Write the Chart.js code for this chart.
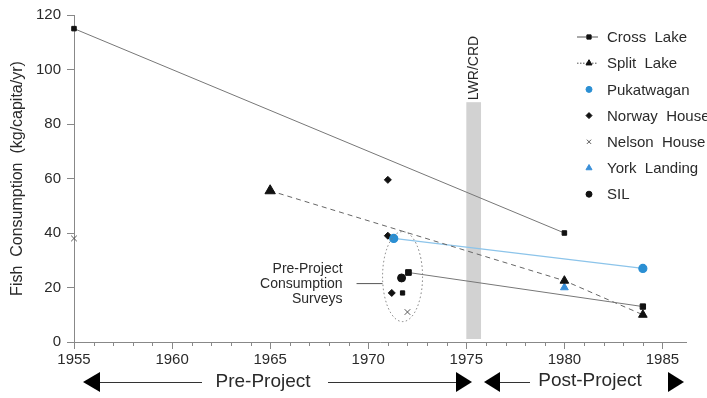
<!DOCTYPE html>
<html>
<head>
<meta charset="utf-8">
<script src="https://cdn.jsdelivr.net/npm/chart.js@4"></script>
<style>
  html, body { margin: 0; padding: 0; background: #fff; }
  #wrap { width: 707px; height: 398px; }
</style>
</head>
<body>
<div id="wrap"><canvas id="fishChart" width="707" height="398"></canvas></div>
<script>
// values
const crossLakeYears = [1955, 1980];
const crossLakeValues = [115, 40];
const crossLakeSurveyYears = [1972.05, 1984];
const crossLakeSurveyValues = [25.5, 13];
const crossLakeOtherYears = [1971.75];
const crossLakeOtherValues = [18];
const splitLakeYears = [1965, 1980, 1984];
const splitLakeValues = [55.5, 22.5, 10];
const pukatwaganYears = [1971.3, 1984];
const pukatwaganValues = [38, 27];
const norwayHouseYears = [1971, 1971, 1971.2];
const norwayHouseValues = [59.5, 39, 18];
const nelsonHouseYears = [1955, 1972];
const nelsonHouseValues = [38, 11];
const yorkLandingYears = [1980];
const yorkLandingValues = [20];
const silYears = [1971.7];
const silValues = [23.5];

const yTicks = [0, 20, 40, 60, 80, 100, 120];
const xTickYears = [1955, 1960, 1965, 1970, 1975, 1980, 1985];

const FONT = '"Liberation Sans", Arial, sans-serif';
const TEXT = '#2a2a2a';

function pts(xs, ys) {
    return xs.map((x, i) => ({ x: x, y: ys[i] }));
}

const legendItems = [
    { label: 'Cross  Lake', style: 'rect', color: '#111', radius: 3, line: 'solid' },
    { label: 'Split  Lake', style: 'triangle', color: '#111', radius: 3.5, line: 'dotted' },
    { label: 'Pukatwagan', style: 'circle', color: '#2b8fd3', radius: 3 },
    { label: 'Norway  House', style: 'rectRot', color: '#111', radius: 3 },
    { label: 'Nelson  House', style: 'crossRot', color: '#555', radius: 3 },
    { label: 'York  Landing', style: 'triangle', color: '#3a8fd8', radius: 3.5 },
    { label: 'SIL', style: 'circle', color: '#111', radius: 3 }
];

const extras = {
    id: 'extras',
    beforeDatasetsDraw(chart) {
        const ctx = chart.ctx;
        const xs = chart.scales.x, ys = chart.scales.y;
        // LWR/CRD band
        const bx0 = xs.getPixelForValue(1975), bx1 = xs.getPixelForValue(1975.75);
        const by0 = ys.getPixelForValue(88), by1 = ys.getPixelForValue(0);
        ctx.save();
        ctx.fillStyle = '#d2d2d2';
        ctx.fillRect(bx0, by0, bx1 - bx0, by1 - by0 - 3);
        ctx.restore();
    },
    afterDraw(chart) {
        const ctx = chart.ctx;
        const xs = chart.scales.x, ys = chart.scales.y;
        const h = Chart.helpers;
        ctx.save();

        // minor x ticks
        ctx.strokeStyle = '#888';
        ctx.lineWidth = 1;
        const base = ys.getPixelForValue(0);
        for (let yr = 1956; yr <= 1985; yr++) {
            if (yr % 5 === 0) continue;
            const px = Math.round(xs.getPixelForValue(yr)) + 0.5;
            ctx.beginPath();
            ctx.moveTo(px, base);
            ctx.lineTo(px, base + 4);
            ctx.stroke();
        }

        // LWR/CRD label
        ctx.fillStyle = TEXT;
        ctx.font = '14px ' + FONT;
        ctx.textAlign = 'center';
        ctx.textBaseline = 'middle';
        ctx.save();
        ctx.translate((xs.getPixelForValue(1975) + xs.getPixelForValue(1975.75)) / 2, 68);
        ctx.rotate(-Math.PI / 2);
        ctx.fillText('LWR/CRD', 0, 0);
        ctx.restore();

        // survey ellipse
        const ex = xs.getPixelForValue(1971.75), ey = ys.getPixelForValue(24);
        ctx.strokeStyle = '#777';
        ctx.setLineDash([1.5, 2.5]);
        ctx.beginPath();
        ctx.ellipse(ex, ey, 20, 45, 0, 0, Math.PI * 2);
        ctx.stroke();
        ctx.setLineDash([]);
        // pointer line and text
        ctx.strokeStyle = '#555';
        ctx.beginPath();
        ctx.moveTo(ex - 46, ey + 7);
        ctx.lineTo(ex - 20, ey + 7);
        ctx.stroke();
        ctx.fillStyle = TEXT;
        ctx.font = '14px ' + FONT;
        ctx.textAlign = 'right';
        ctx.fillText('Pre-Project', ex - 60, ey - 7);
        ctx.fillText('Consumption', ex - 60, ey + 8);
        ctx.fillText('Surveys', ex - 60, ey + 23);

        // legend
        ctx.textAlign = 'left';
        ctx.font = '15px ' + FONT;
        legendItems.forEach((it, i) => {
            const ly = 37 + i * 26.2;
            if (it.line) {
                ctx.strokeStyle = '#555';
                ctx.setLineDash(it.line === 'dotted' ? [1.5, 1.5] : []);
                ctx.beginPath();
                ctx.moveTo(577, ly);
                ctx.lineTo(598, ly);
                ctx.stroke();
                ctx.setLineDash([]);
            }
            ctx.fillStyle = it.color;
            ctx.strokeStyle = it.color;
            h.drawPoint(ctx, { pointStyle: it.style, radius: it.radius, rotation: 0, borderWidth: 1 }, 589, ly);
            ctx.fillStyle = TEXT;
            ctx.fillText(it.label, 607, ly + 1);
        });

        // Pre/Post project arrows
        const ay = 382;
        ctx.fillStyle = '#000';
        ctx.strokeStyle = '#333';
        function tri(tipX, baseX) {
            ctx.beginPath();
            ctx.moveTo(tipX, ay);
            ctx.lineTo(baseX, ay - 10);
            ctx.lineTo(baseX, ay + 10);
            ctx.closePath();
            ctx.fill();
        }
        function seg(a, b) {
            ctx.beginPath();
            ctx.moveTo(a, ay + 0.5);
            ctx.lineTo(b, ay + 0.5);
            ctx.stroke();
        }
        tri(83, 100); seg(100, 202); seg(328, 456); tri(472, 456);
        tri(484, 500); seg(500, 530); tri(684, 668);
        ctx.fillStyle = TEXT;
        ctx.font = '19px ' + FONT;
        ctx.textAlign = 'center';
        ctx.fillText('Pre-Project', 263, ay);
        ctx.fillText('Post-Project', 590, ay - 1);

        ctx.restore();
    }
};

new Chart(document.getElementById('fishChart'), {
    type: 'line',
    data: {
        datasets: [
            {
                label: 'Cross Lake',
                data: pts(crossLakeYears, crossLakeValues),
                borderColor: '#777', borderWidth: 1,
                pointStyle: 'rect', pointRadius: 3.2,
                pointBackgroundColor: '#111', pointBorderColor: '#111'
            },
            {
                label: 'Cross Lake (surveys)',
                data: pts(crossLakeSurveyYears, crossLakeSurveyValues),
                borderColor: '#777', borderWidth: 1,
                pointStyle: 'rect', pointRadius: [4, 3.8],
                pointBackgroundColor: '#111', pointBorderColor: '#111'
            },
            {
                label: 'Cross Lake (other)',
                data: pts(crossLakeOtherYears, crossLakeOtherValues),
                showLine: false,
                pointStyle: 'rect', pointRadius: 3,
                pointBackgroundColor: '#111', pointBorderColor: '#111'
            },
            {
                label: 'Split Lake',
                data: pts(splitLakeYears, splitLakeValues),
                borderColor: '#666', borderWidth: 1, borderDash: [5, 4],
                pointStyle: 'triangle', pointRadius: [6, 5, 5],
                pointBackgroundColor: '#111', pointBorderColor: '#111'
            },
            {
                label: 'Pukatwagan',
                data: pts(pukatwaganYears, pukatwaganValues),
                borderColor: '#8cc4ea', borderWidth: 1.2,
                pointStyle: 'circle', pointRadius: 4,
                pointBackgroundColor: '#2b8fd3', pointBorderColor: '#2b8fd3'
            },
            {
                label: 'Norway House',
                data: pts(norwayHouseYears, norwayHouseValues),
                showLine: false,
                pointStyle: 'rectRot', pointRadius: 3.5,
                pointBackgroundColor: '#111', pointBorderColor: '#111'
            },
            {
                label: 'Nelson House',
                data: pts(nelsonHouseYears, nelsonHouseValues),
                showLine: false,
                pointStyle: 'crossRot', pointRadius: 4, pointBorderWidth: 1,
                pointBorderColor: '#555'
            },
            {
                label: 'York Landing',
                data: pts(yorkLandingYears, yorkLandingValues),
                showLine: false,
                pointStyle: 'triangle', pointRadius: 4.5,
                pointBackgroundColor: '#3a8fd8', pointBorderColor: '#3a8fd8'
            },
            {
                label: 'SIL',
                data: pts(silYears, silValues),
                showLine: false,
                pointStyle: 'circle', pointRadius: 4,
                pointBackgroundColor: '#111', pointBorderColor: '#111'
            }
        ]
    },
    options: {
        responsive: false,
        animation: false,
        clip: false,
        layout: { padding: { top: 15, right: 21, left: 8, bottom: 0 } },
        plugins: {
            legend: { display: false },
            tooltip: { enabled: false }
        },
        scales: {
            x: {
                type: 'linear',
                min: 1955,
                max: 1986.2,
                afterBuildTicks: (axis) => {
                    axis.ticks = xTickYears.map(v => ({ value: v }));
                },
                afterFit: (axis) => { axis.height = 56; },
                grid: { display: true, drawOnChartArea: false, tickLength: 7, color: '#888' },
                border: { color: '#888' },
                ticks: {
                    color: TEXT,
                    font: { family: FONT, size: 15 },
                    padding: 2,
                    maxRotation: 0,
                    autoSkip: false,
                    callback: (v) => String(v)
                }
            },
            y: {
                min: 0,
                max: 120,
                afterBuildTicks: (axis) => {
                    axis.ticks = yTicks.map(v => ({ value: v }));
                },
                afterFit: (axis) => { axis.width = 66; },
                grid: { display: true, drawOnChartArea: false, tickLength: 7, color: '#888' },
                border: { color: '#888' },
                ticks: {
                    color: TEXT,
                    font: { family: FONT, size: 15 },
                    padding: 6
                },
                title: {
                    display: true,
                    text: 'Fish  Consumption  (kg/capita/yr)',
                    color: TEXT,
                    font: { family: FONT, size: 16 },
                    padding: { top: 0, bottom: 0 }
                }
            }
        }
    },
    plugins: [extras]
});
</script>
</body>
</html>
